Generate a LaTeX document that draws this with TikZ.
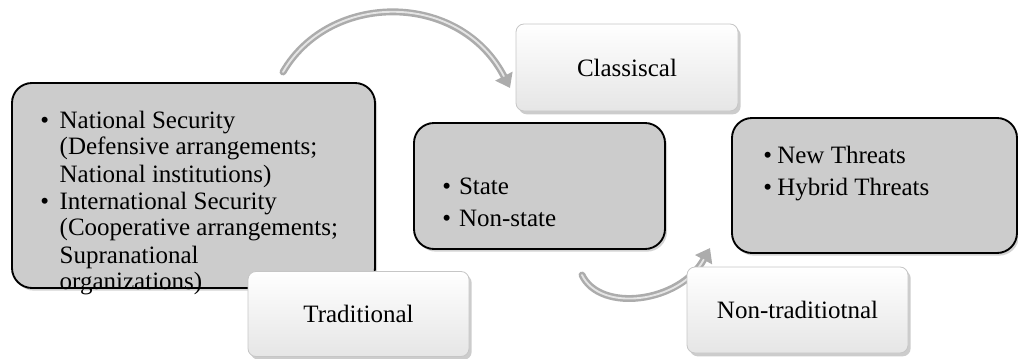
\documentclass[tikz,border=0pt]{standalone}
\usepackage{fontspec}
\setmainfont{Liberation Serif}
\usetikzlibrary{arrows.meta,shadows}

\begin{document}
\begin{tikzpicture}[
  x=0.75pt, y=0.75pt,
  every node/.style={font=\fontsize{18.75}{20.25}\selectfont},
  grey box/.style={draw=black, line width=1.4pt, fill=gray!40, rounded corners=15pt,
    inner sep=0pt, drop shadow={shadow xshift=1.5pt, shadow yshift=-2pt, opacity=.35}},
  label box/.style={draw=gray!45, line width=.6pt, top color=white, bottom color=gray!20,
    rounded corners=6pt, inner sep=0pt,
    drop shadow={shadow xshift=2pt, shadow yshift=-2.5pt, opacity=.4}},
  bullets/.style={anchor=base west, inner sep=0pt},
  bend arrow/.style={draw=gray!65, line width=5.2pt, line cap=round,
    -{Triangle[length=10pt,width=14pt]}},
  shine/.style={draw=gray!20, line width=1.4pt, line cap=round, shorten >=10pt}
]
\useasboundingbox (0,0) rectangle (1018,358);

% gray boxes
\node[grey box, minimum width=363*0.75pt, minimum height=205*0.75pt] (security) at (193.5,172.5) {};
\node[grey box, minimum width=251*0.75pt, minimum height=126*0.75pt] (actors) at (539.5,172) {};
\node[grey box, minimum width=285*0.75pt, minimum height=135*0.75pt] (threats) at (874.5,172.5) {};

% texts
\node[bullets] (securitytext) at (40,230) {\renewcommand\arraystretch{1}%
  \begin{tabular}[t]{@{}l@{\hspace{8pt}}l@{}}
  \textbullet & National Security\\
   & (Defensive arrangements;\\
   & National institutions)\\
  \textbullet & International Security\\
   & (Cooperative arrangements;\\
   & Supranational\\
   & organizations)
  \end{tabular}};
\node[bullets] (actorstext) at (442,164) {\fontsize{18.75}{24}\selectfont
  \begin{tabular}[t]{@{}l@{\hspace{6pt}}l@{}}
  \textbullet & State\\
  \textbullet & Non-state
  \end{tabular}};
\node[bullets] (threatstext) at (763,195) {\fontsize{18.75}{24}\selectfont
  \begin{tabular}[t]{@{}l@{\hspace{4pt}}l@{}}
  \textbullet & New Threats\\
  \textbullet & Hybrid Threats
  \end{tabular}};

% arrow ends
\coordinate (archead) at (283,286);
\coordinate (arctip) at (510,270);
\coordinate (loophead) at (582,83);
\coordinate (looptip) at (710,110);

\draw[bend arrow] (archead) .. controls (330,367) and (460,367) .. (arctip);
\draw[shine] (archead) .. controls (330,367) and (460,367) .. (arctip);
\draw[bend arrow] (loophead) .. controls (600,45) and (680,55) .. (looptip);
\draw[shine] (loophead) .. controls (600,45) and (680,55) .. (looptip);

% white labels
\node[label box, minimum width=222*0.75pt, minimum height=87*0.75pt] (classical) at (627,290.5) {Classiscal};
\node[label box, minimum width=221*0.75pt, minimum height=85*0.75pt] (traditional) at (358.5,44) {Traditional};
\node[label box, minimum width=221*0.75pt, minimum height=86*0.75pt] (nontraditional) at (797.5,48) {Non-traditiotnal};
\end{tikzpicture}
\end{document}
